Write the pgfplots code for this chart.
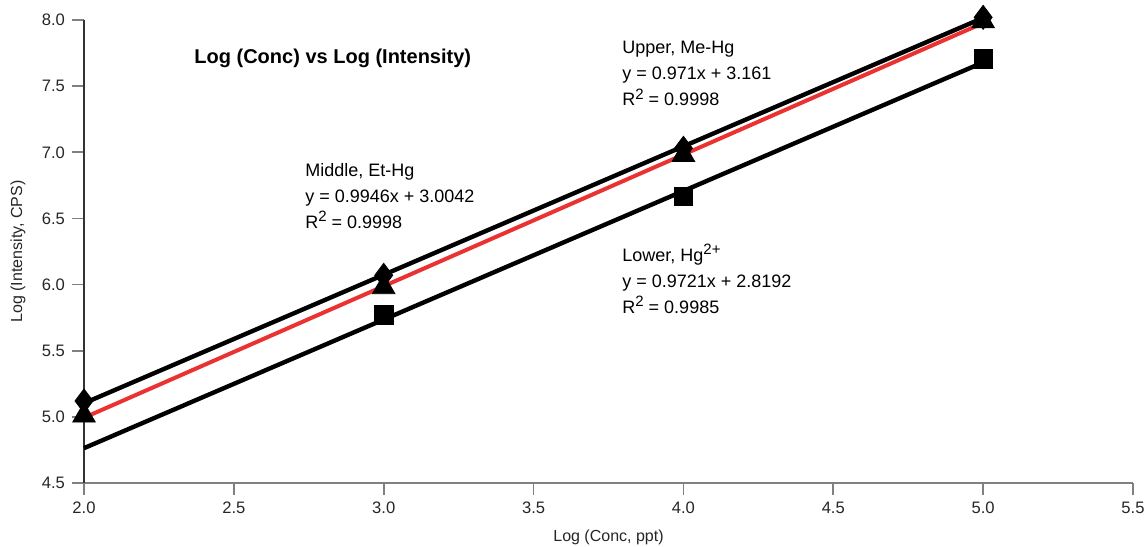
\documentclass[border=0pt]{standalone}
\usepackage{pgfplots}
\pgfplotsset{compat=1.18}
\usepackage{fontspec}
\setmainfont{Liberation Sans}
\definecolor{trendred}{RGB}{235,50,50}
\newcommand{\sups}[1]{\raisebox{0.38em}{\fontsize{7.5}{9}\selectfont #1}}
\begin{document}
\begin{tikzpicture}
\useasboundingbox (-42pt,-31.5pt) rectangle (530.5pt,241.5pt);
\begin{axis}[
  scale only axis, width=524.5pt, height=231.5pt,
  at={(0,0)}, anchor=south west,
  xmin=2, xmax=5.5, ymin=4.5, ymax=8,
  xtick={2,2.5,3,3.5,4,4.5,5,5.5},
  ytick={4.5,5,5.5,6,6.5,7,7.5,8},
  /pgf/number format/.cd, fixed, fixed zerofill, precision=1, assume math mode=true,
  /pgfplots/.cd,
  axis x line*=bottom, axis y line*=left,
  x axis line style={gray, line width=0.8pt, -},
  y axis line style={black!80, line width=0.8pt, -},
  tick align=outside, major tick length=6pt,
  tick style={gray, line width=0.8pt},
  ticklabel style={font=\fontsize{8.3}{10}\selectfont, text=black!85},
  xlabel={Log (Conc, ppt)}, ylabel={Log (Intensity, CPS)},
  label style={font=\fontsize{8}{10}\selectfont, text=black!85},
  xlabel style={at={(axis description cs:0.5,-0.1166)}, anchor=center},
  ylabel style={at={(axis description cs:-0.0629,0.5)}, anchor=center},
  clip=false,
]
% trend lines
\addplot[black, line width=2.2pt] coordinates {(2,5.103) (5,8.016)};
\addplot[black, line width=2.2pt] coordinates {(2,4.7634) (5,7.6797)};
\addplot[trendred, line width=2pt] coordinates {(2,4.9934) (5,7.9772)};
% data points
\addplot[only marks, mark=diamond*, mark size=6pt, black] coordinates {(2,5.12) (3,6.07) (4,7.03) (5,8.02)};
\addplot[only marks, mark=triangle*, mark size=6.5pt, black] coordinates {(2,5.01) (3,5.98) (4,6.98) (5,7.99)};
\addplot[only marks, mark=square*, mark size=4.6pt, black] coordinates {(3,5.77) (4,6.666) (5,7.705)};
% annotations
\node[font=\fontsize{10}{12}\selectfont\bfseries, anchor=center] at (axis cs:2.83,7.71) {Log (Conc) vs Log (Intensity)};
\node[font=\fontsize{9}{13}\selectfont, align=left, anchor=north west, inner sep=0pt] at (axis cs:2.737,6.92)
  {Middle, Et-Hg\\ y = 0.9946x + 3.0042\\ R\sups{2} = 0.9998};
\node[font=\fontsize{9}{13}\selectfont, align=left, anchor=north west, inner sep=0pt] at (axis cs:3.795,7.84)
  {Upper, Me-Hg\\ y = 0.971x + 3.161\\ R\sups{2} = 0.9998};
\node[font=\fontsize{9}{13}\selectfont, align=left, anchor=north west, inner sep=0pt] at (axis cs:3.795,6.31)
  {Lower, Hg\sups{2+}\\ y = 0.9721x + 2.8192\\ R\sups{2} = 0.9985};
\end{axis}
\end{tikzpicture}
\end{document}
